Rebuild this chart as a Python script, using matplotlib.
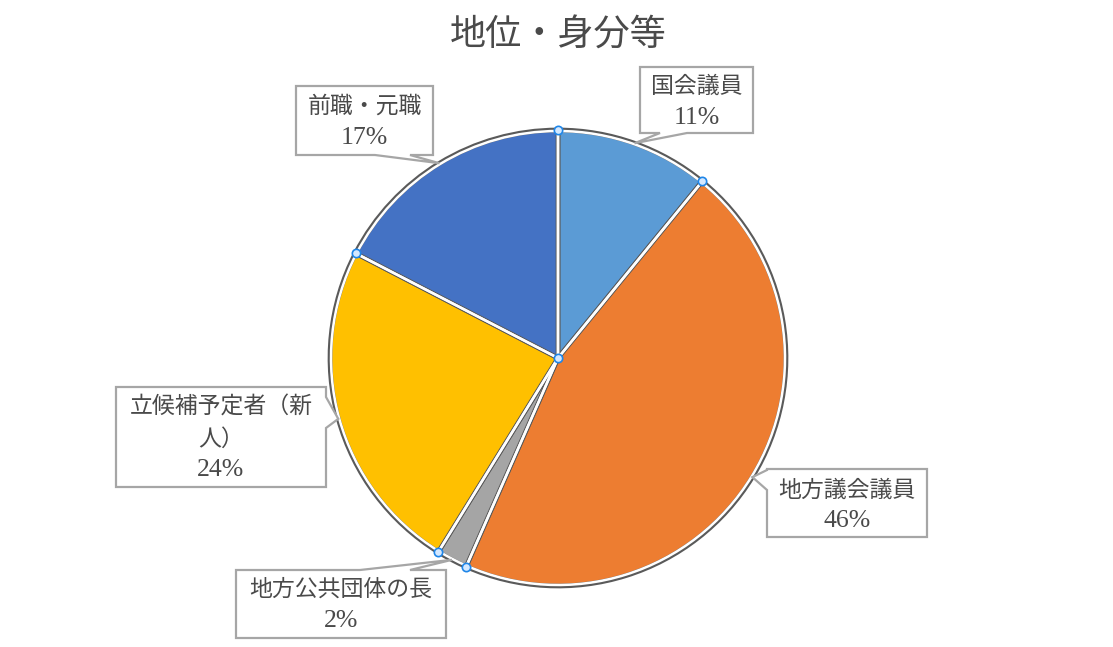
import matplotlib
matplotlib.use('Agg')
import matplotlib.pyplot as plt
import numpy as np
from matplotlib.patches import Polygon

# ---- data ----
categories = ['国会議員', '地方議会議員', '地方公共団体の長', '立候補予定者（新人）', '前職・元職']
shares = [10.9, 45.7, 2.2, 23.8, 17.4]
colors = ['#5B9BD5', '#ED7D31', '#A5A5A5', '#FFC000', '#4472C4']
label_lines = [['国会議員'], ['地方議会議員'], ['地方公共団体の長'], ['立候補予定者（新', '人）'], ['前職・元職']]
title = '地位・身分等'

# ---- layout (pixel coords, y from top) ----
W, H = 1113, 647
CX, CY, R = 558, 358, 228
# box (x0, y0, x1, y1), pointer side, base positions, text line y's
boxes = [
    ((640, 67, 753, 133), 'bottom', (660, 687), (87, 118)),
    ((767, 469, 927, 537), 'left', (470, 490), (491, 521)),
    ((236, 570, 446, 638), 'top', (360, 410), (590, 621)),
    ((116, 387, 326, 487), 'right', (397, 428), (408, 440, 470)),
    ((296, 86, 433, 155), 'bottom', (375, 410), (107, 138)),
]

FAM = ['Liberation Serif', 'Noto Sans CJK JP']
TXT = '#4a4a4a'

def Y(y):
    return H - y

fig = plt.figure(figsize=(W / 100, H / 100), dpi=100)
ax = fig.add_axes([0, 0, 1, 1])

common = dict(startangle=90, counterclock=False, center=(CX, Y(CY)))
wedges, _ = ax.pie(shares, colors=colors, radius=R,
                   wedgeprops=dict(edgecolor='#5a5a5a', linewidth=3.4), **common)
ax.pie(shares, colors=colors, radius=R - 1.0,
       wedgeprops=dict(facecolor='none', edgecolor='white', linewidth=1.8), **common)
ax.set_xlim(0, W)
ax.set_ylim(0, H)
ax.axis('off')

# selection handles at slice boundaries and the centre
fr = np.cumsum([0] + shares[:-1]) / sum(shares)
ang = np.deg2rad(90 - fr * 360)
hx = list(CX + R * np.cos(ang)) + [CX]
hy = list(Y(CY) + R * np.sin(ang)) + [Y(CY)]
ax.plot(hx, hy, 'o', ms=6, mfc='#d4e8ff', mec='#1f86e8', mew=1.2, zorder=5)

# callouts
mids = (np.cumsum(shares) - np.array(shares) / 2) / sum(shares)
for i, (box, side, (b1, b2), ys) in enumerate(boxes):
    x0, y0, x1, y1 = box
    a = np.deg2rad(90 - mids[i] * 360)
    tx = CX + R * np.cos(a)
    ty = CY - R * np.sin(a)
    tip = (tx, ty)
    v = [(x0, y0)]
    if side == 'top':
        v += [(b1, y0), tip, (b2, y0)]
    v += [(x1, y0)]
    if side == 'right':
        v += [(x1, b1), tip, (x1, b2)]
    v += [(x1, y1)]
    if side == 'bottom':
        v += [(b2, y1), tip, (b1, y1)]
    v += [(x0, y1)]
    if side == 'left':
        v += [(x0, b2), tip, (x0, b1)]
    poly = Polygon([(px, Y(py)) for px, py in v], closed=True,
                   facecolor='white', edgecolor='#A6A6A6', linewidth=1.6, zorder=6)
    ax.add_patch(poly)
    xc = (x0 + x1) / 2
    for line, yy in zip(label_lines[i], ys[:-1]):
        ax.text(xc, Y(yy), line, ha='center', va='center', fontsize=16.5,
                color=TXT, family=FAM, zorder=7)
    ax.text(xc, Y(ys[-1]), f'{round(shares[i])}%', ha='center', va='center',
            fontsize=18.5, color=TXT, family=FAM, zorder=7)

ax.text(558, Y(37), title, ha='center', va='center', fontsize=26,
        color=TXT, family=FAM)

fig.savefig('out.png', dpi=100)
